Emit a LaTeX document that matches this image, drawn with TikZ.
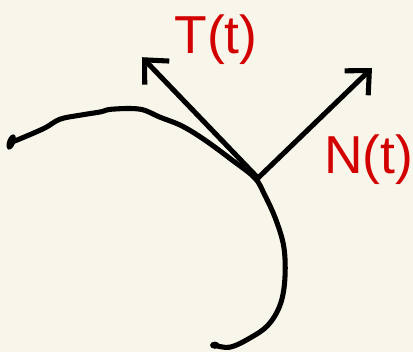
\documentclass[tikz,border=0pt]{standalone}
\usepackage{fontspec}
\setsansfont{Liberation Sans}
\usetikzlibrary{arrows.meta, positioning, calc}
\usepackage{xcolor}
\definecolor{papel}{HTML}{F8F6EA}
\definecolor{tinta}{HTML}{D20000}

\begin{document}
\begin{tikzpicture}[
    every node/.style={font=\sffamily},
    traco/.style={
        draw=black,
        line width=3.6pt,
        line cap=round,
        line join=round
    },
    vetor/.style={
        traco,
        -{Straight Barb[length=0.45cm, width=0.85cm, line width=3.6pt]}
    },
    rotulo/.style={
        text=tinta,
        font=\sffamily\fontsize{38}{38}\selectfont,
        inner sep=0pt
    }
]

% ============================================================
% FUNDO
% ============================================================

\fill[papel] (0,0) rectangle (10.325,8.8);
\useasboundingbox (0,0) rectangle (10.325,8.8);

% ============================================================
% CURVA
% ============================================================

\draw[traco] plot[smooth, tension=0.6] coordinates {
    (0.30,5.25) (0.55,5.35) (1.12,5.60) (1.50,5.82) (2.00,5.92)
    (2.50,6.00) (2.80,6.07) (3.50,6.07) (4.00,5.87) (4.55,5.65)
    (5.12,5.30) (5.80,4.80) (6.37,4.35) (6.62,3.92) (6.90,3.30)
    (7.10,2.60) (7.12,1.80) (7.00,1.17) (6.70,0.67) (6.25,0.35)
    (5.75,0.12) (5.37,0.17)
};

% Pontas da curva
\fill[black, rotate around={70:(0.28,5.25)}] (0.28,5.25) ellipse (0.2 and 0.1);
\fill[black] (5.37,0.17) ellipse (0.12 and 0.09);

% ============================================================
% VETORES
% ============================================================

\coordinate (ponto) at (6.45,4.35);
\coordinate (pontaT) at (3.55,7.37);
\coordinate (pontaN) at (9.30,7.10);

% Tangente
\draw[vetor] (ponto) -- (pontaT);

% Normal
\draw[vetor] (ponto) -- (pontaN);

% ============================================================
% RÓTULOS
% ============================================================

\node[rotulo] (rotT) at (5.40,7.80) {T(t)};
\node[rotulo] (rotN) at (9.22,4.80) {N(t)};

\end{tikzpicture}
\end{document}
